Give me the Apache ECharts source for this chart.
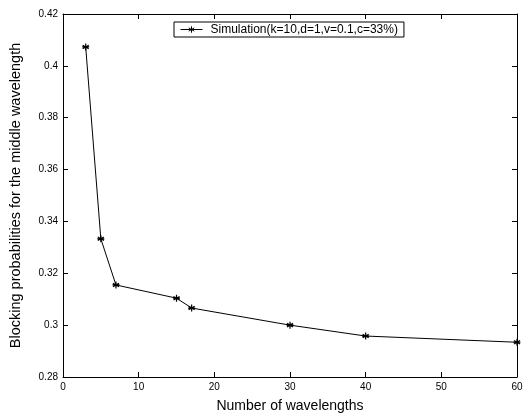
<!DOCTYPE html>
<html><head><meta charset="utf-8">
<script src="https://cdn.jsdelivr.net/npm/echarts@6/dist/echarts.min.js"></script>
<style>html,body{margin:0;padding:0;background:#fff}#c{width:531px;height:418px}</style>
</head><body><div id="c"></div>
<script>
const xValues = [3, 5, 7, 15, 17, 30, 40, 60];
const yValues = [0.4073, 0.3333, 0.3155, 0.3104, 0.3066, 0.3000, 0.2958, 0.2934];
const seriesName = 'Simulation(k=10,d=1,v=0.1,c=33%)';
const xName = 'Number of wavelengths';
const yName = 'Blocking probabilities for the middle wavelength';

const star = 'path://M0,-5L0,5M-4.33,-2.5L4.33,2.5M-4.33,2.5L4.33,-2.5M-5,0L5,0';
const font = 'Liberation Sans, Arial, sans-serif';
const chart = echarts.init(document.getElementById('c'));
const axCommon = {
  axisLine: {show: true, onZero: false, lineStyle: {color: '#000', width: 1}},
  axisTick: {show: true, inside: true, length: 5, lineStyle: {color: '#000'}},
  splitLine: {show: false}
};
chart.setOption({
  animation: false,
  backgroundColor: '#fff',
  grid: {left: 63, right: 14, top: 14, bottom: 41},
  legend: {
    left: 174, top: 22,
    padding: [1, 6, 1, 6],
    borderColor: '#000', borderWidth: 1,
    itemWidth: 22, itemHeight: 8,
    itemGap: 4,
    lineStyle: {width: 1, color: '#000'},
    itemStyle: {color: 'rgba(0,0,0,0)', borderColor: '#000', borderWidth: 1},
    textStyle: {fontFamily: font, fontSize: 12, color: '#000', padding: [0, 0, 0, 3], lineHeight: 13},
    data: [seriesName]
  },
  xAxis: [
    Object.assign({type: 'value', min: 0, max: 60, interval: 10, position: 'bottom',
      name: xName, nameLocation: 'middle', nameGap: 22,
      nameTextStyle: {fontFamily: font, fontSize: 14, color: '#000'},
      axisLabel: {fontFamily: font, fontSize: 10, color: '#000', margin: 5}}, axCommon),
    Object.assign({type: 'value', min: 0, max: 60, interval: 10, position: 'top',
      axisLabel: {show: false}}, axCommon)
  ],
  yAxis: [
    Object.assign({type: 'value', min: 0.28, max: 0.42, interval: 0.02, position: 'left',
      name: yName, nameLocation: 'middle', nameGap: 40, nameRotate: 90,
      nameTextStyle: {fontFamily: font, fontSize: 14.5, color: '#000'},
      axisLabel: {fontFamily: font, fontSize: 10, color: '#000', margin: 5,
        formatter: v => String(+v.toFixed(2))}}, axCommon),
    Object.assign({type: 'value', min: 0.28, max: 0.42, interval: 0.02, position: 'right',
      axisLabel: {show: false}}, axCommon)
  ],
  series: [{
    name: seriesName,
    type: 'line',
    data: xValues.map((x, i) => [x, yValues[i]]),
    symbol: star,
    symbolSize: 7,
    showAllSymbol: true,
    lineStyle: {color: '#000', width: 1},
    itemStyle: {color: 'rgba(0,0,0,0)', borderColor: '#000', borderWidth: 1.2},
    emphasis: {disabled: true}
  }]
});
</script></body></html>
